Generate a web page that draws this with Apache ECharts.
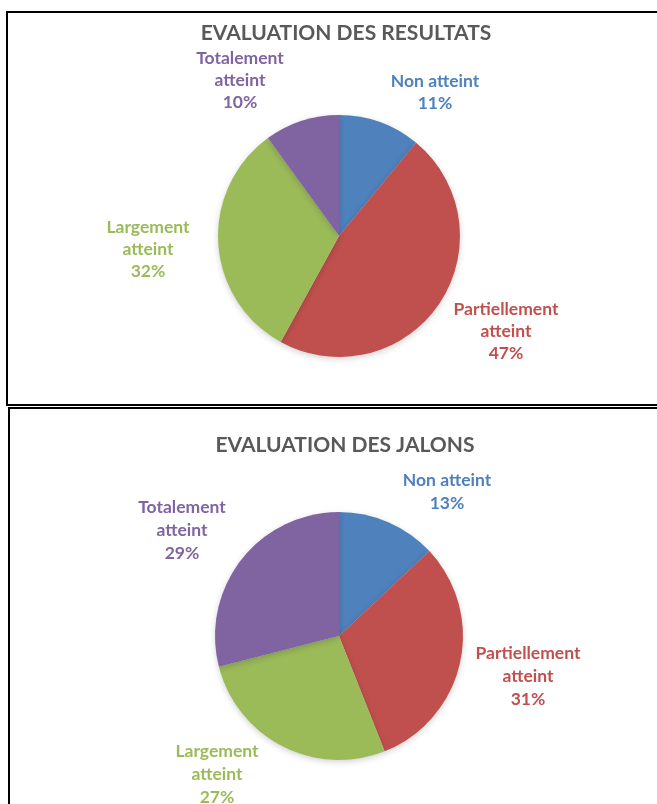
<!DOCTYPE html>
<html>
<head>
<meta charset="utf-8">
<title>Evaluation</title>
<script src="https://cdn.jsdelivr.net/npm/echarts@6/dist/echarts.min.js"></script>
<style>
  html, body { margin: 0; padding: 0; background: #fff; }
  #chart { width: 657px; height: 804px; }
</style>
</head>
<body>
<div id="chart"></div>
<script>
// categories, clockwise from 12 o'clock
var categories = ['Non atteint', 'Partiellement atteint', 'Largement atteint', 'Totalement atteint']
// percentages
var resultatsValues = [11, 47, 32, 10]
var jalonsValues = [13, 31, 27, 29]
var titles = ['EVALUATION DES RESULTATS', 'EVALUATION DES JALONS']

// office palette
var colors = ['#4F81BD', '#C0504D', '#9BBB59', '#8064A2']

// where excel put the labels (centre of each text block)
var labelSpots = [
  [[435, 92], [506, 331], [148, 249], [240, 80]],
  [[447, 492], [528, 676], [217, 774], [182, 530]]
]

var font = 'Lato, "Open Sans", sans-serif'

function toData(values) {
  return categories.map(function (name, i) {
    return { name: name, value: values[i], itemStyle: { color: colors[i] } }
  })
}

function pieSeries(values, center, radius, idx) {
  return {
    type: 'pie',
    center: center,
    radius: radius,
    startAngle: 90,
    clockwise: true,
    animation: false,
    silent: true,
    data: toData(values),
    itemStyle: {
      borderWidth: 0,
      shadowBlur: 6,
      shadowOffsetY: 2,
      shadowColor: 'rgba(0,0,0,0.18)'
    },
    label: {
      show: true,
      position: 'outside',
      fontFamily: font,
      fontWeight: 'bold',
      fontSize: 17.5,
      lineHeight: idx ? 23 : 22,
      align: 'center',
      color: 'inherit',
      formatter: function (p) {
        return p.name.replace(/^(\S+ement) /, '$1\n') + '\n' + p.value + '%'
      }
    },
    labelLine: { show: false },
    labelLayout: function (params) {
      var spot = labelSpots[idx][params.dataIndex]
      return { x: spot[0], y: spot[1], align: 'center', verticalAlign: 'middle' }
    }
  }
}

var chart = echarts.init(document.getElementById('chart'), null, { renderer: 'canvas' })

chart.setOption({
  backgroundColor: '#fff',
  title: [
    {
      text: titles[0],
      left: 341,
      top: 18,
      textAlign: 'center',
      textStyle: { fontFamily: font, fontWeight: 'bold', fontSize: 21, color: '#595959' }
    },
    {
      text: titles[1],
      left: 340,
      top: 430,
      textAlign: 'center',
      textStyle: { fontFamily: font, fontWeight: 'bold', fontSize: 21, color: '#595959' }
    }
  ],
  graphic: [
    {
      type: 'rect',
      shape: { x: 7, y: 12, width: 680, height: 393 },
      style: { fill: 'none', stroke: '#000', lineWidth: 2 }
    },
    {
      type: 'rect',
      shape: { x: 9, y: 408, width: 680, height: 420 },
      style: { fill: 'none', stroke: '#000', lineWidth: 2 }
    }
  ],
  series: [
    pieSeries(resultatsValues, [339, 236], 121, 0),
    pieSeries(jalonsValues, [339, 636], 124, 1)
  ]
})
</script>
</body>
</html>
